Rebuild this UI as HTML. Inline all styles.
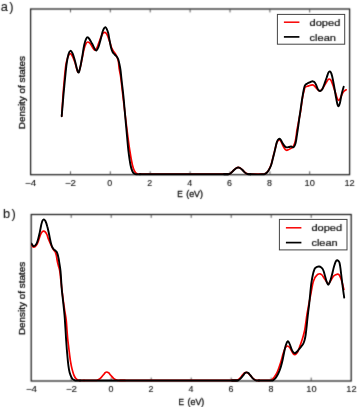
<!DOCTYPE html>
<html><head><meta charset="utf-8"><style>
html,body{margin:0;padding:0;background:#fff;}
body{width:357px;height:407px;overflow:hidden;}
svg{display:block;}
text{font-family:"Liberation Sans",sans-serif;fill:#151515;stroke:#111;stroke-width:0.3px;}
.r{fill:none;stroke:#f80000;stroke-width:1.7;stroke-linejoin:round;stroke-linecap:round;}
.k{fill:none;stroke:#000;stroke-width:1.9;stroke-linejoin:round;stroke-linecap:round;}
.ax{fill:none;stroke:#111;stroke-width:1.2;}
.tk{stroke:#444;stroke-width:0.9;}
.tl{font-size:8.9px;text-anchor:middle;stroke-width:0.12px;}
.xl{font-size:8.2px;}
.yl{font-size:8.4px;text-anchor:middle;}
.pl{font-size:12.8px;letter-spacing:1.5px;stroke-width:0.12px;}
.lg{fill:#fff;stroke:#444;stroke-width:1;}
.lr{stroke:#f80000;stroke-width:1.5;}
.lk{stroke:#000;stroke-width:1.7;}
.lt{font-size:9.6px;stroke-width:0.22px;}
</style></head><body>
<svg width="357" height="407" viewBox="0 0 357 407">
<defs><filter id="bl" x="0" y="0" width="357" height="407" filterUnits="userSpaceOnUse" color-interpolation-filters="sRGB"><feConvolveMatrix order="3" kernelMatrix="0.0289 0.1122 0.0289 0.1122 0.4356 0.1122 0.0289 0.1122 0.0289" edgeMode="none"/></filter><filter id="bl2" x="0" y="0" width="357" height="407" filterUnits="userSpaceOnUse" color-interpolation-filters="sRGB"><feConvolveMatrix order="3" kernelMatrix="0.0144 0.0912 0.0144 0.0912 0.5776 0.0912 0.0144 0.0912 0.0144" edgeMode="none" preserveAlpha="false"/></filter></defs>
<g filter="url(#bl)"><rect width="357" height="407" fill="#fff"/>
<rect x="30.60" y="9.00" width="319.00" height="165.70" class="ax"/><line x1="70.5" y1="174.7" x2="70.5" y2="171.3" class="tk"/><line x1="70.5" y1="9.0" x2="70.5" y2="12.4" class="tk"/><line x1="110.3" y1="174.7" x2="110.3" y2="171.3" class="tk"/><line x1="110.3" y1="9.0" x2="110.3" y2="12.4" class="tk"/><line x1="150.2" y1="174.7" x2="150.2" y2="171.3" class="tk"/><line x1="150.2" y1="9.0" x2="150.2" y2="12.4" class="tk"/><line x1="190.1" y1="174.7" x2="190.1" y2="171.3" class="tk"/><line x1="190.1" y1="9.0" x2="190.1" y2="12.4" class="tk"/><line x1="230.0" y1="174.7" x2="230.0" y2="171.3" class="tk"/><line x1="230.0" y1="9.0" x2="230.0" y2="12.4" class="tk"/><line x1="269.9" y1="174.7" x2="269.9" y2="171.3" class="tk"/><line x1="269.9" y1="9.0" x2="269.9" y2="12.4" class="tk"/><line x1="309.7" y1="174.7" x2="309.7" y2="171.3" class="tk"/><line x1="309.7" y1="9.0" x2="309.7" y2="12.4" class="tk"/><rect x="31.20" y="214.50" width="320.00" height="166.50" class="ax"/><line x1="71.2" y1="381.0" x2="71.2" y2="377.6" class="tk"/><line x1="71.2" y1="214.5" x2="71.2" y2="217.9" class="tk"/><line x1="111.2" y1="381.0" x2="111.2" y2="377.6" class="tk"/><line x1="111.2" y1="214.5" x2="111.2" y2="217.9" class="tk"/><line x1="151.2" y1="381.0" x2="151.2" y2="377.6" class="tk"/><line x1="151.2" y1="214.5" x2="151.2" y2="217.9" class="tk"/><line x1="191.2" y1="381.0" x2="191.2" y2="377.6" class="tk"/><line x1="191.2" y1="214.5" x2="191.2" y2="217.9" class="tk"/><line x1="231.2" y1="381.0" x2="231.2" y2="377.6" class="tk"/><line x1="231.2" y1="214.5" x2="231.2" y2="217.9" class="tk"/><line x1="271.2" y1="381.0" x2="271.2" y2="377.6" class="tk"/><line x1="271.2" y1="214.5" x2="271.2" y2="217.9" class="tk"/><line x1="311.2" y1="381.0" x2="311.2" y2="377.6" class="tk"/><line x1="311.2" y1="214.5" x2="311.2" y2="217.9" class="tk"/>
</g>
<clipPath id="c9"><rect x="30.6" y="7.0" width="319.0" height="169.7"/></clipPath><g clip-path="url(#c9)"><path d="M61.7 116.2 C61.9 113.0 62.5 103.0 62.9 97.0 C63.3 91.0 63.8 85.3 64.3 80.0 C64.8 74.7 65.3 68.8 65.9 65.0 C66.5 61.2 67.2 58.9 67.9 57.0 C68.6 55.1 69.4 53.7 70.2 53.6 C71.0 53.5 71.8 55.0 72.6 56.5 C73.4 58.0 74.1 59.9 75.0 62.5 C75.9 65.1 77.1 71.5 78.0 72.2 C78.9 73.0 79.6 69.2 80.3 67.0 C81.0 64.8 81.3 62.1 82.0 59.0 C82.7 55.9 83.5 51.1 84.2 48.5 C84.9 45.9 85.4 44.6 86.0 43.5 C86.6 42.4 87.2 42.0 87.8 42.0 C88.4 42.0 89.1 42.5 89.8 43.2 C90.5 43.9 91.2 45.0 91.8 46.0 C92.4 47.0 93.0 48.3 93.6 49.0 C94.2 49.7 94.6 50.5 95.2 50.2 C95.8 49.9 96.6 48.5 97.3 47.0 C98.0 45.5 98.6 43.3 99.3 41.5 C100.0 39.7 100.8 37.4 101.5 36.0 C102.2 34.6 102.8 33.6 103.3 33.0 C103.8 32.4 104.1 32.4 104.6 32.4 C105.1 32.4 105.6 32.6 106.2 33.3 C106.8 34.0 107.4 35.3 108.0 36.8 C108.6 38.2 109.2 40.2 109.8 42.0 C110.4 43.8 110.9 45.9 111.5 47.5 C112.1 49.1 112.9 50.3 113.6 51.4 C114.3 52.5 115.0 53.2 115.6 54.2 C116.2 55.2 116.7 56.2 117.2 57.5 C117.7 58.8 118.2 60.2 118.5 62.0 C118.8 63.8 118.8 66.0 119.1 68.0 C119.4 70.0 119.8 71.8 120.2 74.0 C120.6 76.2 120.7 76.5 121.2 81.0 C121.8 85.5 122.6 93.7 123.5 101.0 C124.4 108.3 125.4 116.8 126.4 125.0 C127.4 133.2 128.7 143.3 129.7 150.0 C130.7 156.7 131.6 161.5 132.4 165.0 C133.2 168.5 133.8 169.5 134.5 170.9 C135.2 172.3 135.8 173.0 136.5 173.5 C137.2 174.1 138.2 174.1 139.0 174.2 C139.8 174.3 140.7 174.2 141.0 174.2" class="r"/><path d="M140.0 174.2 C154.7 174.2 213.3 174.2 228.0 174.2" class="r"/><path d="M224.0 174.2 C224.7 174.2 227.2 174.3 228.4 174.1 C229.6 173.9 230.1 173.6 231.0 172.9 C231.9 172.2 233.1 170.8 234.0 169.9 C234.9 169.1 235.8 168.4 236.5 167.9 C237.2 167.5 237.6 167.4 238.2 167.4 C238.8 167.4 239.3 167.5 240.0 167.9 C240.7 168.4 241.7 169.2 242.5 169.9 C243.3 170.7 244.2 171.8 245.0 172.5 C245.8 173.2 246.6 173.6 247.5 173.9 C248.4 174.2 250.0 174.2 250.5 174.2" class="r"/><path d="M250.0 174.2 C252.0 174.2 259.5 174.2 262.0 174.2 C264.5 174.2 264.0 174.2 264.8 173.9 C265.6 173.6 266.3 173.2 267.0 172.4 C267.7 171.7 268.3 170.7 269.0 169.4 C269.7 168.2 270.4 166.6 271.0 165.0 C271.6 163.3 272.0 161.4 272.5 159.5 C273.0 157.6 273.5 155.4 274.0 153.5 C274.5 151.6 274.8 150.2 275.3 148.3 C275.8 146.4 276.4 143.8 277.0 142.3 C277.6 140.9 278.3 139.8 278.9 139.6 C279.5 139.4 280.1 140.2 280.7 141.0 C281.3 141.8 281.7 143.1 282.3 144.3 C282.9 145.6 283.8 147.5 284.5 148.5 C285.2 149.5 285.8 150.1 286.5 150.3 C287.2 150.5 288.1 149.8 288.8 149.5 C289.6 149.2 290.3 148.9 291.0 148.4 C291.7 147.9 292.6 147.4 293.2 146.5 C293.8 145.6 294.3 144.5 294.8 143.0 C295.3 141.5 295.6 139.7 296.0 137.5 C296.4 135.3 296.5 132.9 297.0 130.0 C297.5 127.1 298.3 123.2 298.9 120.0 C299.5 116.8 300.2 113.7 300.7 110.5 C301.2 107.3 301.6 103.8 302.0 101.0 C302.4 98.2 302.8 95.9 303.2 94.0 C303.6 92.1 304.0 90.9 304.3 89.8 C304.6 88.7 304.6 87.9 305.1 87.3 C305.6 86.7 306.6 86.6 307.4 86.3 C308.1 86.0 308.8 85.8 309.6 85.5 C310.4 85.2 311.5 84.8 312.3 84.8 C313.1 84.8 313.8 85.3 314.4 85.8 C315.0 86.3 315.6 87.3 316.2 88.0 C316.8 88.7 317.4 89.3 318.0 89.8 C318.6 90.3 319.3 90.9 320.0 90.8 C320.7 90.7 321.6 89.9 322.3 89.0 C323.0 88.1 323.7 86.7 324.4 85.5 C325.1 84.3 325.9 83.0 326.5 82.0 C327.1 81.0 327.6 80.2 328.0 79.7 C328.4 79.2 328.8 79.0 329.2 79.0 C329.6 79.0 330.1 79.2 330.6 79.8 C331.1 80.4 331.5 81.4 332.0 82.6 C332.5 83.8 333.0 85.5 333.6 87.2 C334.2 88.9 334.9 91.1 335.5 93.0 C336.1 94.9 336.7 97.2 337.2 98.4 C337.7 99.6 338.1 100.3 338.6 100.3 C339.1 100.3 339.7 99.4 340.3 98.3 C340.9 97.2 341.7 94.7 342.4 93.5 C343.1 92.3 343.7 91.6 344.3 91.0 C344.9 90.4 345.9 90.0 346.2 89.8" class="r"/><path d="M61.7 116.2 C62.0 113.0 62.8 103.0 63.3 97.0 C63.8 91.0 64.4 85.5 64.9 80.0 C65.5 74.5 66.0 68.2 66.6 64.0 C67.2 59.8 67.8 56.7 68.4 54.5 C69.0 52.3 69.7 51.0 70.4 50.8 C71.1 50.6 71.8 51.8 72.6 53.5 C73.4 55.2 74.1 57.9 75.0 61.0 C75.9 64.2 77.3 71.4 78.2 72.4 C79.1 73.4 79.7 69.4 80.3 67.0 C80.9 64.6 81.3 61.7 82.0 58.0 C82.7 54.3 83.5 48.1 84.2 45.0 C84.9 41.9 85.4 40.5 86.0 39.2 C86.6 37.9 87.0 37.3 87.6 37.3 C88.1 37.2 88.6 37.9 89.3 38.9 C90.0 39.9 91.1 41.9 92.0 43.5 C92.9 45.1 93.8 47.3 94.5 48.5 C95.2 49.7 95.7 50.9 96.4 50.6 C97.1 50.4 97.8 48.8 98.5 47.0 C99.2 45.2 99.8 42.5 100.5 40.0 C101.2 37.5 101.9 34.0 102.5 32.0 C103.1 30.1 103.6 29.1 104.1 28.3 C104.6 27.5 105.0 27.0 105.4 27.1 C105.8 27.2 106.2 27.8 106.7 28.8 C107.2 29.8 107.7 31.1 108.2 33.0 C108.7 34.9 109.0 37.6 109.5 40.0 C110.0 42.4 110.5 45.5 111.0 47.5 C111.5 49.5 112.0 50.8 112.6 52.0 C113.2 53.2 114.0 53.7 114.7 54.5 C115.4 55.3 116.2 56.0 116.8 56.8 C117.4 57.6 117.9 58.3 118.3 59.5 C118.7 60.7 119.0 62.2 119.4 64.0 C119.8 65.8 120.1 67.3 120.5 70.0 C120.9 72.7 121.0 75.0 121.6 80.0 C122.1 85.0 123.1 92.5 123.8 100.0 C124.5 107.5 125.2 116.7 126.0 125.0 C126.8 133.3 127.6 143.3 128.3 150.0 C129.1 156.7 129.8 161.4 130.5 165.0 C131.2 168.6 131.8 170.0 132.5 171.5 C133.2 173.0 133.8 173.3 134.5 173.8 C135.2 174.3 136.1 174.2 137.0 174.3 C137.9 174.4 139.5 174.3 140.0 174.3" class="k"/><path d="M140.0 174.3 C154.7 174.3 213.3 174.3 228.0 174.3" class="k"/><path d="M224.0 174.3 C224.7 174.3 227.2 174.4 228.4 174.2 C229.6 174.0 230.1 173.7 231.0 173.0 C231.9 172.3 233.1 170.8 234.0 170.0 C234.9 169.2 235.8 168.4 236.5 168.0 C237.2 167.6 237.6 167.5 238.2 167.5 C238.8 167.5 239.3 167.6 240.0 168.0 C240.7 168.4 241.7 169.2 242.5 170.0 C243.3 170.8 244.2 171.9 245.0 172.6 C245.8 173.3 246.6 173.7 247.5 174.0 C248.4 174.3 250.0 174.2 250.5 174.3" class="k"/><path d="M250.0 174.3 C252.0 174.3 259.5 174.4 262.0 174.3 C264.5 174.2 264.0 174.3 264.8 174.0 C265.6 173.7 266.3 173.2 267.0 172.5 C267.7 171.8 268.3 171.0 269.0 169.8 C269.7 168.6 270.4 167.1 271.0 165.5 C271.6 163.9 272.0 161.9 272.5 160.0 C273.0 158.1 273.5 155.9 274.0 154.0 C274.5 152.1 274.8 150.6 275.3 148.5 C275.8 146.4 276.4 143.2 277.0 141.6 C277.6 140.0 278.4 139.1 279.0 138.8 C279.6 138.5 280.2 139.1 280.8 139.8 C281.4 140.5 281.7 141.8 282.3 142.8 C282.9 143.8 283.8 145.2 284.5 146.0 C285.2 146.8 285.8 147.1 286.5 147.3 C287.2 147.5 288.2 147.1 289.0 147.0 C289.8 146.9 290.5 146.4 291.2 146.5 C291.9 146.6 292.7 147.6 293.3 147.3 C293.9 147.1 294.5 146.2 295.0 145.0 C295.5 143.8 295.8 142.5 296.2 140.0 C296.6 137.5 297.2 133.2 297.7 130.0 C298.2 126.8 298.6 123.6 299.0 120.5 C299.4 117.4 299.9 114.6 300.3 111.6 C300.7 108.6 301.2 105.4 301.6 102.5 C302.0 99.6 302.5 96.7 302.9 94.4 C303.3 92.1 303.6 90.0 304.0 88.5 C304.4 87.0 304.6 86.0 305.1 85.2 C305.7 84.4 306.6 84.0 307.3 83.5 C308.1 83.0 309.0 82.7 309.6 82.4 C310.2 82.1 310.7 81.8 311.2 81.6 C311.7 81.4 312.1 81.2 312.6 81.3 C313.1 81.4 313.7 81.5 314.3 82.0 C314.9 82.5 315.4 83.3 316.0 84.6 C316.6 85.9 317.3 88.5 318.0 89.6 C318.7 90.7 319.4 91.1 320.1 91.0 C320.8 90.9 321.6 90.4 322.3 89.2 C323.0 88.0 323.7 86.0 324.4 84.0 C325.1 82.0 326.0 79.4 326.7 77.5 C327.4 75.6 327.9 73.6 328.4 72.6 C328.9 71.6 329.4 71.2 329.9 71.4 C330.4 71.6 330.9 72.1 331.4 73.6 C331.9 75.1 332.5 77.6 333.0 80.2 C333.5 82.8 334.1 86.1 334.6 89.0 C335.1 91.9 335.6 95.3 336.1 97.8 C336.6 100.3 337.0 102.8 337.4 104.2 C337.8 105.6 338.2 106.4 338.6 106.2 C339.0 106.0 339.5 104.8 340.0 102.8 C340.5 100.8 341.0 97.1 341.6 94.4 C342.2 91.7 343.4 87.9 343.7 86.6" class="k"/></g><clipPath id="c214"><rect x="31.2" y="212.5" width="320.0" height="170.5"/></clipPath><g clip-path="url(#c214)"><path d="M31.5 244.7 C31.7 245.0 32.2 246.1 32.6 246.5 C33.0 246.9 33.2 247.2 33.6 247.2 C34.0 247.2 34.6 247.1 35.2 246.6 C35.8 246.1 36.4 245.4 37.0 244.4 C37.6 243.4 38.1 241.8 38.6 240.3 C39.1 238.8 39.7 236.8 40.2 235.5 C40.7 234.2 41.2 232.9 41.8 232.2 C42.3 231.5 42.9 231.2 43.5 231.1 C44.1 231.0 44.6 231.2 45.2 231.8 C45.8 232.4 46.3 233.2 46.9 234.5 C47.5 235.8 48.0 238.0 48.6 239.5 C49.2 241.0 49.8 242.2 50.4 243.6 C51.0 244.9 51.7 246.5 52.3 247.6 C52.9 248.7 53.4 249.6 53.9 250.3 C54.4 251.0 54.9 251.2 55.3 252.0 C55.7 252.8 56.0 254.0 56.3 255.3 C56.6 256.6 56.8 258.3 57.1 260.0 C57.4 261.7 57.9 263.6 58.3 265.3 C58.7 267.1 59.3 268.2 59.7 270.5 C60.1 272.8 60.4 276.0 60.7 279.0 C61.1 282.0 61.4 285.0 61.8 288.5 C62.2 292.0 62.7 296.3 63.2 300.0 C63.7 303.7 64.2 307.2 64.7 310.5 C65.2 313.8 65.8 316.7 66.2 320.0 C66.6 323.3 66.7 327.0 67.0 330.5 C67.3 334.0 67.5 337.3 67.9 340.8 C68.3 344.3 68.8 348.1 69.2 351.5 C69.6 354.9 70.0 358.4 70.5 361.4 C71.0 364.4 71.6 367.3 72.2 369.6 C72.8 371.9 73.3 373.6 73.9 375.1 C74.5 376.6 75.2 377.8 75.9 378.6 C76.6 379.5 77.4 379.9 78.2 380.1 C79.0 380.4 80.0 380.3 81.0 380.4 C82.0 380.4 83.5 380.4 84.0 380.4" class="r"/><path d="M84.0 380.4 C85.7 380.4 91.8 380.4 94.0 380.4 C96.2 380.3 96.3 380.4 97.3 380.1 C98.3 379.9 99.0 379.5 100.0 378.7 C101.0 377.9 102.1 376.3 103.0 375.3 C103.9 374.3 104.6 373.3 105.2 372.7 C105.8 372.2 106.2 372.0 106.8 372.0 C107.3 372.0 107.8 372.2 108.5 372.7 C109.2 373.3 109.9 374.3 110.8 375.3 C111.7 376.3 112.8 377.8 113.8 378.6 C114.8 379.4 115.9 379.9 116.9 380.1 C117.9 380.4 118.7 380.3 120.0 380.4 C121.3 380.4 124.2 380.4 125.0 380.4" class="r"/><path d="M120.0 380.4 C139.3 380.4 216.7 380.4 236.0 380.4" class="r"/><path d="M232.0 380.4 C232.8 380.3 235.2 380.5 236.5 380.2 C237.8 380.0 238.6 379.4 239.5 378.6 C240.4 377.8 241.4 376.4 242.2 375.4 C243.0 374.5 243.7 373.5 244.4 373.0 C245.1 372.5 245.7 372.3 246.3 372.3 C246.9 372.3 247.3 372.5 248.0 373.0 C248.7 373.5 249.5 374.5 250.3 375.4 C251.1 376.3 252.1 377.7 253.0 378.4 C253.9 379.2 254.8 379.8 255.8 380.1 C256.8 380.5 258.5 380.3 259.0 380.4" class="r"/><path d="M259.0 380.4 C260.5 380.4 265.9 380.4 268.0 380.4 C270.1 380.3 270.4 380.7 271.4 380.1 C272.4 379.6 273.3 378.6 274.2 377.3 C275.1 376.1 276.2 374.4 277.0 372.7 C277.8 371.1 278.3 369.4 279.0 367.5 C279.7 365.6 280.3 363.8 281.0 361.5 C281.7 359.2 282.5 355.8 283.2 353.5 C283.9 351.2 284.6 349.1 285.3 347.8 C286.0 346.6 286.7 346.1 287.4 346.0 C288.1 345.9 288.7 346.4 289.4 347.2 C290.1 347.9 290.8 349.4 291.4 350.5 C292.0 351.6 292.6 352.9 293.2 353.6 C293.8 354.3 294.3 354.8 295.0 354.6 C295.7 354.4 296.6 353.8 297.5 352.3 C298.4 350.8 299.3 347.7 300.1 345.6 C300.9 343.5 301.5 341.6 302.2 339.5 C302.9 337.4 303.6 334.9 304.1 332.8 C304.6 330.7 304.9 329.1 305.2 327.0 C305.5 324.9 305.9 322.0 306.2 320.0 C306.5 318.0 306.5 317.4 306.9 314.8 C307.3 312.2 308.2 307.9 308.8 304.5 C309.4 301.1 310.2 297.4 310.7 294.6 C311.2 291.9 311.5 290.0 311.9 288.0 C312.3 286.0 312.7 283.9 313.1 282.4 C313.5 280.9 313.9 279.8 314.4 278.8 C314.8 277.8 315.2 277.1 315.8 276.4 C316.4 275.6 317.2 274.7 317.9 274.3 C318.6 273.9 319.4 273.7 320.1 273.8 C320.8 273.9 321.4 274.4 322.0 275.0 C322.6 275.6 323.2 276.7 323.9 277.7 C324.6 278.7 325.3 279.8 326.0 280.8 C326.7 281.8 327.4 283.8 328.2 283.8 C329.0 283.8 329.9 281.9 330.8 280.6 C331.7 279.3 332.6 277.2 333.4 276.2 C334.2 275.2 334.9 275.1 335.6 274.8 C336.3 274.5 337.1 274.1 337.8 274.2 C338.5 274.3 339.1 274.7 339.6 275.5 C340.1 276.3 340.5 277.4 341.0 278.8 C341.5 280.2 341.9 281.8 342.4 283.6 C342.9 285.4 343.6 288.5 343.9 289.5" class="r"/><path d="M31.5 243.6 C31.7 243.9 32.3 245.1 32.7 245.5 C33.1 245.9 33.5 246.1 33.9 246.1 C34.3 246.1 34.8 245.8 35.3 245.3 C35.8 244.8 36.3 244.3 36.8 243.2 C37.3 242.1 37.8 240.3 38.3 238.5 C38.8 236.7 39.3 234.3 39.8 232.1 C40.3 229.8 40.8 226.9 41.2 225.0 C41.7 223.1 42.0 221.5 42.5 220.6 C43.0 219.7 43.4 219.3 43.9 219.4 C44.4 219.5 44.8 219.9 45.4 221.0 C46.0 222.1 46.7 224.3 47.2 226.2 C47.8 228.1 48.2 230.3 48.7 232.5 C49.2 234.7 49.7 237.5 50.1 239.5 C50.5 241.5 50.9 243.1 51.3 244.5 C51.7 245.9 52.1 247.0 52.6 247.8 C53.1 248.7 53.5 249.1 54.0 249.6 C54.5 250.1 54.9 250.2 55.3 250.6 C55.7 251.0 56.2 251.2 56.6 251.8 C57.0 252.5 57.4 253.4 57.7 254.5 C58.0 255.6 58.3 257.0 58.6 258.5 C58.9 260.0 59.1 261.6 59.4 263.5 C59.7 265.4 60.1 267.4 60.4 270.0 C60.7 272.6 60.9 275.8 61.1 279.0 C61.3 282.2 61.4 285.6 61.8 289.5 C62.1 293.4 62.8 298.2 63.2 302.5 C63.7 306.8 64.1 310.8 64.5 315.0 C64.9 319.2 65.1 323.7 65.4 328.0 C65.7 332.3 65.9 336.9 66.2 340.8 C66.5 344.7 66.7 348.1 67.0 351.5 C67.3 354.9 67.6 358.4 67.9 361.4 C68.2 364.4 68.6 367.3 69.0 369.6 C69.4 371.9 69.9 373.7 70.5 375.2 C71.1 376.8 71.7 378.0 72.4 378.9 C73.1 379.7 74.0 380.0 74.8 380.3 C75.6 380.6 76.6 380.5 77.5 380.5 C78.4 380.5 79.6 380.5 80.0 380.5" class="k"/><path d="M80.0 380.5 C106.3 380.5 211.7 380.5 238.0 380.5" class="k"/><path d="M232.0 380.5 C232.9 380.5 236.2 380.7 237.6 380.4 C239.0 380.1 239.4 379.6 240.3 378.8 C241.2 378.0 242.2 376.6 243.0 375.6 C243.8 374.7 244.4 373.6 245.0 373.1 C245.6 372.6 246.1 372.4 246.7 372.4 C247.3 372.4 247.8 372.6 248.4 373.1 C249.0 373.6 249.7 374.6 250.5 375.5 C251.3 376.4 252.1 377.8 253.0 378.6 C253.9 379.4 254.8 380.0 255.8 380.3 C256.8 380.6 258.5 380.5 259.0 380.5" class="k"/><path d="M259.0 380.5 C260.8 380.5 267.7 380.5 270.0 380.5 C272.3 380.5 272.1 380.7 273.0 380.3 C273.9 379.9 274.7 379.1 275.5 378.2 C276.3 377.2 277.1 375.7 277.8 374.4 C278.5 373.2 279.0 371.9 279.5 370.6 C280.0 369.2 280.5 368.2 281.0 366.3 C281.5 364.5 282.2 361.9 282.7 359.5 C283.2 357.1 283.7 354.4 284.2 352.0 C284.7 349.6 285.2 347.0 285.8 345.2 C286.4 343.4 287.0 341.6 287.6 341.3 C288.2 341.0 288.8 342.1 289.4 343.4 C290.0 344.6 290.8 347.3 291.4 348.8 C292.0 350.3 292.6 351.5 293.2 352.2 C293.8 352.9 294.3 353.3 295.0 353.2 C295.7 353.1 296.5 352.2 297.2 351.5 C297.9 350.8 298.6 349.7 299.3 348.8 C300.0 347.9 300.7 347.2 301.4 346.3 C302.1 345.4 302.8 344.7 303.3 343.6 C303.8 342.6 304.2 341.5 304.6 340.0 C305.0 338.5 305.4 336.7 305.7 334.5 C306.0 332.3 306.3 329.4 306.6 327.0 C306.9 324.6 307.0 322.5 307.3 320.0 C307.6 317.5 307.9 314.5 308.2 312.0 C308.5 309.5 308.8 307.8 309.1 305.0 C309.4 302.2 309.8 298.3 310.1 295.0 C310.4 291.7 310.8 287.9 311.1 285.1 C311.4 282.4 311.8 280.4 312.1 278.5 C312.4 276.6 312.8 275.0 313.1 273.6 C313.4 272.2 313.8 271.1 314.1 270.2 C314.4 269.3 314.6 268.8 315.1 268.2 C315.6 267.6 316.3 267.1 317.0 266.8 C317.7 266.5 318.5 266.4 319.2 266.5 C319.9 266.6 320.4 266.8 321.0 267.2 C321.6 267.6 322.1 268.0 322.6 268.9 C323.1 269.8 323.6 270.9 324.0 272.3 C324.4 273.7 324.8 275.4 325.3 277.0 C325.8 278.6 326.3 280.9 326.8 282.2 C327.3 283.5 327.7 284.8 328.2 284.8 C328.7 284.8 329.3 283.4 329.8 282.1 C330.3 280.8 330.9 278.8 331.4 277.0 C331.9 275.2 332.4 273.3 332.8 271.5 C333.2 269.7 333.6 267.8 334.1 266.2 C334.6 264.6 335.2 262.6 335.7 261.6 C336.2 260.6 336.7 260.3 337.2 260.2 C337.7 260.1 338.1 260.6 338.5 261.0 C338.9 261.4 339.2 261.6 339.5 262.8 C339.8 264.1 340.2 266.1 340.5 268.5 C340.8 270.9 341.1 273.8 341.5 277.0 C341.9 280.2 342.4 284.1 342.8 287.5 C343.2 290.9 344.0 295.9 344.2 297.6" class="k"/></g>
<rect x="277.4" y="14.4" width="67.3" height="29.8" class="lg"/><line x1="283.9" y1="22.2" x2="299.4" y2="22.2" class="lr"/><line x1="283.9" y1="36.9" x2="299.4" y2="36.9" class="lk"/><rect x="279.4" y="219.4" width="67.6" height="30.5" class="lg"/><line x1="285.9" y1="227.8" x2="301.4" y2="227.8" class="lr"/><line x1="285.9" y1="242.6" x2="301.4" y2="242.6" class="lk"/>
<g filter="url(#bl2)"><text x="30.6" y="185.6" class="tl" textLength="11.2" lengthAdjust="spacingAndGlyphs">−4</text><text x="70.5" y="185.6" class="tl" textLength="11.2" lengthAdjust="spacingAndGlyphs">−2</text><text x="109.8" y="185.6" class="tl" lengthAdjust="spacingAndGlyphs">0</text><text x="149.7" y="185.6" class="tl" lengthAdjust="spacingAndGlyphs">2</text><text x="189.6" y="185.6" class="tl" lengthAdjust="spacingAndGlyphs">4</text><text x="229.5" y="185.6" class="tl" lengthAdjust="spacingAndGlyphs">6</text><text x="269.4" y="185.6" class="tl" lengthAdjust="spacingAndGlyphs">8</text><text x="309.7" y="185.6" class="tl" textLength="10.3" lengthAdjust="spacingAndGlyphs">10</text><text x="349.6" y="185.6" class="tl" textLength="10.3" lengthAdjust="spacingAndGlyphs">12</text><text x="177.3" y="196.7" class="xl">E</text><text x="186.2" y="196.7" class="xl" textLength="16.8" lengthAdjust="spacingAndGlyphs">(eV)</text><text transform="translate(24.6 92.6) rotate(-90)" class="yl" textLength="73.2" lengthAdjust="spacingAndGlyphs">Density of states</text><text x="0.7" y="10.6" class="pl">a)</text><text x="309.6" y="25.6" class="lt" textLength="30.7" lengthAdjust="spacingAndGlyphs">doped</text><text x="309.6" y="40.7" class="lt" textLength="26.3" lengthAdjust="spacingAndGlyphs">clean</text><text x="31.5" y="392.0" class="tl" textLength="11.2" lengthAdjust="spacingAndGlyphs">−4</text><text x="71.5" y="392.0" class="tl" textLength="11.2" lengthAdjust="spacingAndGlyphs">−2</text><text x="111.0" y="392.0" class="tl" lengthAdjust="spacingAndGlyphs">0</text><text x="151.0" y="392.0" class="tl" lengthAdjust="spacingAndGlyphs">2</text><text x="191.0" y="392.0" class="tl" lengthAdjust="spacingAndGlyphs">4</text><text x="231.0" y="392.0" class="tl" lengthAdjust="spacingAndGlyphs">6</text><text x="271.0" y="392.0" class="tl" lengthAdjust="spacingAndGlyphs">8</text><text x="311.5" y="392.0" class="tl" textLength="10.3" lengthAdjust="spacingAndGlyphs">10</text><text x="351.5" y="392.0" class="tl" textLength="10.3" lengthAdjust="spacingAndGlyphs">12</text><text x="178.6" y="404.8" class="xl">E</text><text x="187.5" y="404.8" class="xl" textLength="16.8" lengthAdjust="spacingAndGlyphs">(eV)</text><text transform="translate(25.1 298.5) rotate(-90)" class="yl" textLength="73.2" lengthAdjust="spacingAndGlyphs">Density of states</text><text x="3.0" y="217.5" class="pl">b)</text><text x="311.4" y="231.2" class="lt" textLength="30.7" lengthAdjust="spacingAndGlyphs">doped</text><text x="311.4" y="246.4" class="lt" textLength="26.3" lengthAdjust="spacingAndGlyphs">clean</text></g>
</svg>
</body></html>
